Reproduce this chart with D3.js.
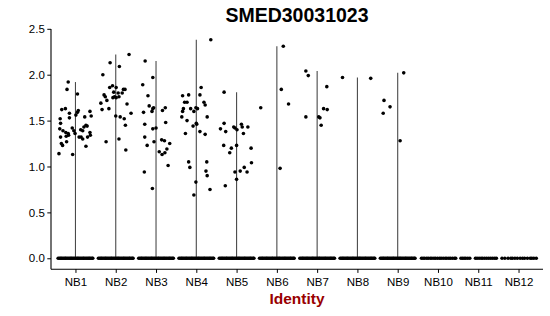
<!DOCTYPE html>
<html>
<head>
<meta charset="utf-8">
<script src="https://cdn.jsdelivr.net/npm/d3@7"></script>
<style>
  body { margin: 0; background: #fff; }
  text { font-family: "Liberation Sans", Arial, sans-serif; }
</style>
</head>
<body>
<script>
// identities on the x axis
var identities = ["NB1", "NB2", "NB3", "NB4", "NB5", "NB6", "NB7", "NB8", "NB9", "NB10", "NB11", "NB12"];
var yTicks = [0, 0.5, 1.0, 1.5, 2.0, 2.5];

// non-zero expression, [jitter (fraction of step), value]
var nb1 = [[-0.41,1.14],[-0.07,1.13],[-0.18,1.92],[-0.21,1.84],[0.05,1.79],[-0.34,1.62],[-0.25,1.63],[-0.15,1.58],
  [-0.38,1.52],[-0.15,1.53],[-0.37,1.47],[0.05,1.59],[0.07,1.61],[0.01,1.56],[0.23,1.54],[0.36,1.60],[0.39,1.55],
  [0.26,1.45],[0.29,1.44],[0.21,1.43],[-0.39,1.41],[-0.31,1.39],[-0.24,1.37],[-0.18,1.36],[-0.17,1.34],[-0.23,1.33],
  [-0.08,1.42],[-0.04,1.39],[-0.01,1.36],[0.13,1.40],[0.18,1.39],[0.36,1.37],[0.37,1.34],[-0.37,1.32],[0.09,1.32],
  [0.18,1.30],[0.30,1.32],[-0.35,1.25],[-0.32,1.23],[-0.22,1.27],[0.26,1.22],[0.14,1.32]];
var nb2 = [[0.33,2.22],[-0.14,2.13],[0.09,2.09],[-0.32,2.00],[-0.29,1.78],[-0.26,1.76],[-0.22,1.72],[-0.37,1.69],
  [-0.34,1.62],[-0.15,1.86],[-0.08,1.88],[-0.05,1.81],[0.01,1.86],[0.06,1.80],[-0.03,1.76],[0.01,1.75],[-0.07,1.75],
  [0.08,1.76],[0.19,1.84],[0.23,1.84],[0.16,1.80],[0.28,1.68],[0.38,1.58],[-0.17,1.63],[0.00,1.55],[0.11,1.54],
  [0.21,1.52],[0.24,1.45],[0.08,1.30],[-0.24,1.27],[0.25,1.18]];
var nb3 = [[-0.27,2.15],[-0.08,1.97],[-0.33,1.89],[-0.20,1.77],[-0.31,1.59],[-0.17,1.66],[-0.08,1.63],[-0.06,1.64],
  [-0.10,1.60],[0.16,1.61],[0.23,1.64],[-0.28,1.46],[0.24,1.48],[-0.08,1.41],[0.00,1.42],[-0.28,1.32],[-0.05,1.27],
  [-0.22,1.23],[0.14,1.29],[0.21,1.28],[0.34,1.25],[0.27,1.19],[0.08,1.16],[0.15,1.13],[0.22,1.15],[0.30,1.01],
  [-0.29,0.94],[-0.09,0.76]];
var nb4 = [[0.36,2.38],[0.12,1.86],[-0.34,1.77],[-0.19,1.78],[0.09,1.78],[-0.29,1.70],[-0.23,1.70],[0.19,1.70],
  [0.22,1.67],[-0.32,1.63],[-0.34,1.60],[-0.14,1.63],[-0.06,1.60],[-0.01,1.64],[0.03,1.63],[0.27,1.54],[-0.36,1.54],
  [-0.23,1.50],[0.00,1.47],[-0.08,1.44],[0.01,1.46],[0.09,1.38],[-0.27,1.36],[0.22,1.35],[-0.19,1.05],[-0.16,0.99],
  [0.26,1.05],[0.24,0.95],[0.27,0.90],[-0.01,0.83],[0.34,0.75],[-0.06,0.69]];
var nb5 = [[-0.31,1.81],[-0.31,1.47],[-0.40,1.41],[-0.27,1.38],[-0.07,1.43],[-0.04,1.42],[0.01,1.40],[0.12,1.46],
  [0.14,1.43],[0.28,1.43],[0.17,1.36],[-0.32,1.23],[-0.13,1.20],[-0.17,1.15],[0.00,1.23],[0.36,1.20],[0.37,1.04],
  [-0.04,0.94],[0.09,0.95],[0.19,0.99],[0.26,0.94],[0.00,0.86],[-0.28,0.79]];
var nb6 = [[0.16,2.31],[0.11,1.84],[0.29,1.68],[-0.40,1.64],[0.08,0.98]];
var nb7 = [[-0.28,2.04],[-0.22,1.99],[0.24,1.87],[0.16,1.63],[0.25,1.62],[-0.28,1.54],[0.04,1.54],[0.07,1.53],[0.10,1.45]];
var nb8 = [[-0.37,1.97],[0.33,1.96]];
var nb9 = [[0.15,2.02],[-0.34,1.72],[-0.19,1.65],[-0.36,1.58],[0.06,1.28]];
var nb10 = [], nb11 = [], nb12 = [];

// jitter of the cells at zero
var zeroDense = [-0.43,-0.40,-0.37,-0.35,-0.32,-0.29,-0.26,-0.24,-0.21,-0.18,-0.15,-0.12,-0.10,-0.07,-0.04,-0.01,
  0.02,0.05,0.07,0.10,0.13,0.16,0.19,0.21,0.24,0.27,0.30,0.33,0.35,0.38,0.41,0.43];
var zeroNB10 = [-0.41,-0.37,-0.33,-0.28,-0.24,-0.19,-0.15,-0.10,-0.06,-0.01,0.04,0.08,0.13,0.18,0.22,0.27,0.31,0.36,0.41,0.44];
var zeroNB11 = [-0.43,-0.39,-0.35,-0.31,-0.26,-0.21,-0.07,-0.03,0.02,0.07,0.11,0.16,0.21,0.26,0.31,0.36,0.41,0.45];
var zeroNB12 = [-0.41,-0.34,-0.26,-0.19,-0.15,-0.09,-0.03,0.04,0.10,0.15,0.22,0.29,0.33,0.38,0.44];

var nonZero = [nb1, nb2, nb3, nb4, nb5, nb6, nb7, nb8, nb9, nb10, nb11, nb12];
var zeros = [zeroDense, zeroDense, zeroDense, zeroDense, zeroDense, zeroDense, zeroDense, zeroDense, zeroDense,
  zeroNB10, zeroNB11, zeroNB12];

var width = 550, height = 316;
var svg = d3.select("body").append("svg")
  .attr("width", width)
  .attr("height", height);

var x = d3.scalePoint()
  .domain(identities)
  .range([51.3, 542.7])
  .padding(0.6);
var step = x.step();

var ymax = d3.max(nonZero, function(s) { return d3.max(s, function(d) { return d[1]; }) || 0; });
var pad = ymax * 0.05;
var y = d3.scaleLinear()
  .domain([-pad, ymax + pad])
  .range([269.2, 28.9]);

// flatten cells
var cells = [];
identities.forEach(function(id, i) {
  zeros[i].forEach(function(j) { cells.push({ id: id, j: j, v: 0 }); });
  nonZero[i].forEach(function(d) { cells.push({ id: id, j: d[0], v: d[1] }); });
});

// violins (thin, nearly all cells at zero)
var vmax = identities.map(function(id, i) {
  return { id: id, max: d3.max(nonZero[i], function(d) { return d[1]; }) || 0 };
});
svg.append("g")
  .selectAll("line")
  .data(vmax.filter(function(d) { return d.max > 0; }))
  .enter().append("line")
    .attr("x1", function(d) { return x(d.id); })
    .attr("x2", function(d) { return x(d.id); })
    .attr("y1", y(0))
    .attr("y2", function(d) { return y(d.max); })
    .attr("stroke", "#4a4a4a")
    .attr("stroke-width", 1.1);

svg.append("g")
  .selectAll("circle")
  .data(cells)
  .enter().append("circle")
    .attr("cx", function(d) { return x(d.id) + d.j * step; })
    .attr("cy", function(d) { return y(d.v); })
    .attr("r", 1.8)
    .attr("fill", "#000");

// axes
var yAxis = svg.append("g")
  .attr("transform", "translate(51,0)")
  .call(d3.axisLeft(y).tickValues(yTicks).tickFormat(d3.format(".1f")).tickSize(3.7).tickPadding(2.5));
var xAxis = svg.append("g")
  .attr("transform", "translate(0,269.2)")
  .call(d3.axisBottom(x).tickSize(3.7).tickPadding(4.5));

[yAxis, xAxis].forEach(function(a) {
  a.select(".domain").attr("stroke", "#000").attr("stroke-width", 1.1)
    .attr("d", a === yAxis ? "M0," + y.range()[0] + "V" + y.range()[1] : "M51," + "0H" + 543);
  a.selectAll(".tick line").attr("stroke", "#000").attr("stroke-width", 1);
  a.selectAll(".tick text").attr("fill", "#000").style("font-size", "11.5px")
    .style("font-family", "'Liberation Sans', Arial, sans-serif");
});

svg.append("text")
  .attr("x", 297)
  .attr("y", 21.7)
  .attr("text-anchor", "middle")
  .style("font-size", "19.5px")
  .style("font-weight", "bold")
  .text("SMED30031023");

svg.append("text")
  .attr("x", 297)
  .attr("y", 303.7)
  .attr("text-anchor", "middle")
  .attr("fill", "#990000")
  .style("font-size", "15.5px")
  .style("font-weight", "bold")
  .text("Identity");
</script>
</body>
</html>
